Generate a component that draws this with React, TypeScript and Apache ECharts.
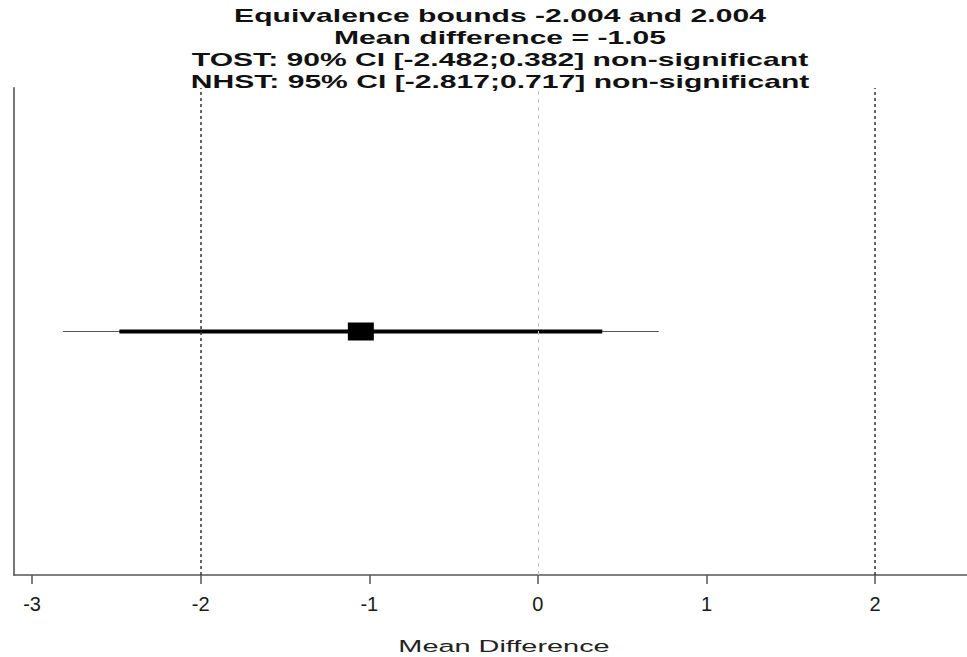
import React, { useEffect, useRef } from "react";
import * as echarts from "echarts";

const titleLines = [
  "Equivalence bounds -2.004 and 2.004",
  "Mean difference = -1.05",
  "TOST: 90% CI [-2.482;0.382] non-significant",
  "NHST: 95% CI [-2.817;0.717] non-significant",
];
const meanDiff = -1.05;
const tostCI = [-2.482, 0.382];
const nhstCI = [-2.817, 0.717];
const bounds = [-2.004, 2.004];
const nullValue = 0;
const tickValues = [-3, -2, -1, 0, 1, 2];
const xLabel = "Mean Difference";

export default function App() {
  const ref = useRef<HTMLDivElement>(null);
  useEffect(() => {
    if (!ref.current) return;
    const chart = echarts.init(ref.current, null, { renderer: "svg" });
    const ff = '"Liberation Sans", Arial, sans-serif';
    const sx = 1.72;
    const titleY = [16, 38, 60, 82];
    chart.setOption({
      animation: false,
      backgroundColor: "#ffffff",
      grid: { left: 14, right: 0, top: 88, bottom: 82 },
      xAxis: {
        type: "value",
        min: -3.107,
        max: 2.545,
        splitLine: { show: false },
        axisLine: { show: true, onZero: false, lineStyle: { color: "#555", width: 1.5 } },
        axisTick: {
          show: true,
          customValues: tickValues,
          length: 9,
          lineStyle: { color: "#555", width: 1.5 },
        },
        axisLabel: {
          customValues: tickValues,
          fontSize: 20,
          fontFamily: ff,
          color: "#1a1a1a",
          margin: 19,
        },
      },
      yAxis: {
        type: "value",
        min: 0,
        max: 1,
        axisLine: { show: true, onZero: false, lineStyle: { color: "#777", width: 2 } },
        axisTick: { show: false },
        axisLabel: { show: false },
        splitLine: { show: false },
      },
      graphic: [
        ...titleLines.map((t, i) => ({
          type: "text",
          x: 500,
          y: titleY[i],
          scaleX: sx,
          silent: true,
          style: {
            text: t,
            x: 0,
            y: 0,
            textAlign: "center",
            textVerticalAlign: "middle",
            font: `bold 17.5px ${ff}`,
            fill: "#111",
          },
        })),
        {
          type: "text",
          x: 504,
          y: 646,
          scaleX: 1.7,
          silent: true,
          style: {
            text: xLabel,
            x: 0,
            y: 0,
            textAlign: "center",
            textVerticalAlign: "middle",
            font: `17px ${ff}`,
            fill: "#222",
          },
        },
      ],
      series: [
        {
          type: "line",
          data: [
            [nhstCI[0], 0.5],
            [nhstCI[1], 0.5],
          ],
          symbol: "none",
          lineStyle: { color: "#555", width: 1 },
          markLine: {
            silent: true,
            symbol: "none",
            label: { show: false },
            data: [
              { xAxis: bounds[0], lineStyle: { color: "#333", width: 1.5, type: [3, 3] } },
              { xAxis: bounds[1], lineStyle: { color: "#333", width: 1.5, type: [3, 3] } },
              { xAxis: nullValue, lineStyle: { color: "#c4c4c4", width: 1, type: [4, 4] } },
            ],
          },
        },
        {
          type: "line",
          data: [
            [tostCI[0], 0.5],
            [tostCI[1], 0.5],
          ],
          symbol: "none",
          lineStyle: { color: "#000", width: 4 },
        },
        {
          type: "scatter",
          data: [[meanDiff, 0.5]],
          symbol: "rect",
          symbolSize: [26, 18],
          itemStyle: { color: "#000", opacity: 1 },
        },
      ],
    });
    return () => chart.dispose();
  }, []);
  return <div ref={ref} style={{ width: 967, height: 657, position: "absolute", left: 0, top: 0 }} />;
}
